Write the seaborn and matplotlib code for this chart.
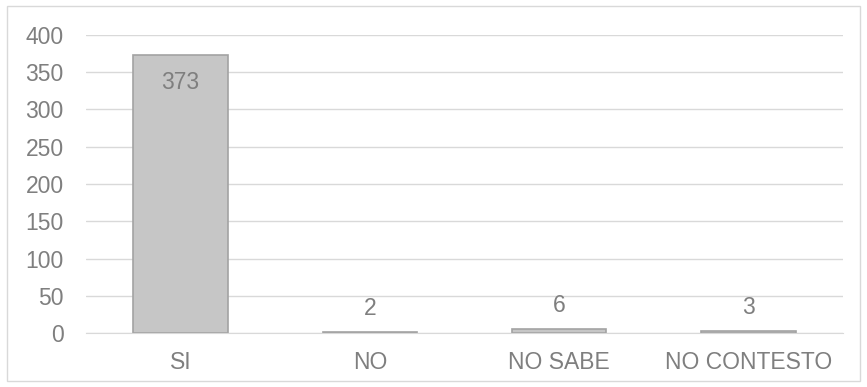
import pandas as pd
import seaborn as sns
import matplotlib.pyplot as plt
from matplotlib.patches import Rectangle

categorias = ['SI', 'NO', 'NO SABE', 'NO CONTESTO']
respuestas = [373, 2, 6, 3]
ticks_y = [0, 50, 100, 150, 200, 250, 300, 350, 400]

sns.set_style('white')
plt.rcParams['font.family'] = ['Liberation Sans', 'DejaVu Sans']

gris_texto = '#7f7f7f'
gris_linea = '#d9d9d9'
tam = 16.5

df = pd.DataFrame({'categoria': categorias, 'valor': respuestas})

fig = plt.figure(figsize=(8.67, 3.87), dpi=100)
ax = fig.add_axes([0.0992, 0.1395, 0.8731, 0.7701])

sns.barplot(data=df, x='categoria', y='valor', color='#c6c6c6',
            edgecolor='#a3a3a3', linewidth=1.2, width=0.5, ax=ax)

ax.set_ylim(0, 400)
ax.set_yticks(ticks_y)
ax.yaxis.grid(True, color=gris_linea, linewidth=1)
ax.set_axisbelow(True)
for lado in ['left', 'right', 'top']:
    ax.spines[lado].set_visible(False)
ax.spines['bottom'].set_color(gris_linea)
ax.tick_params(axis='both', length=0, labelsize=tam, labelcolor=gris_texto)
ax.tick_params(axis='x', pad=13)
ax.tick_params(axis='y', pad=16)
ax.set_xlabel('')
ax.set_ylabel('')

# etiquetas de datos
for i, v in enumerate(respuestas):
    if v > 100:
        ax.annotate(str(v), (i, v), xytext=(0, -19.5), textcoords='offset points',
                    ha='center', va='center', fontsize=tam, color=gris_texto)
    else:
        ax.annotate(str(v), (i, v), xytext=(0, 16.5), textcoords='offset points',
                    ha='center', va='center', fontsize=tam, color=gris_texto)

# marco exterior del grafico
fig.patches.append(Rectangle((7 / 867, 6 / 387), 853 / 867, 375 / 387,
                             transform=fig.transFigure, fill=False,
                             edgecolor='#d9d9d9', linewidth=1))

fig.savefig('out.png', dpi=100)
